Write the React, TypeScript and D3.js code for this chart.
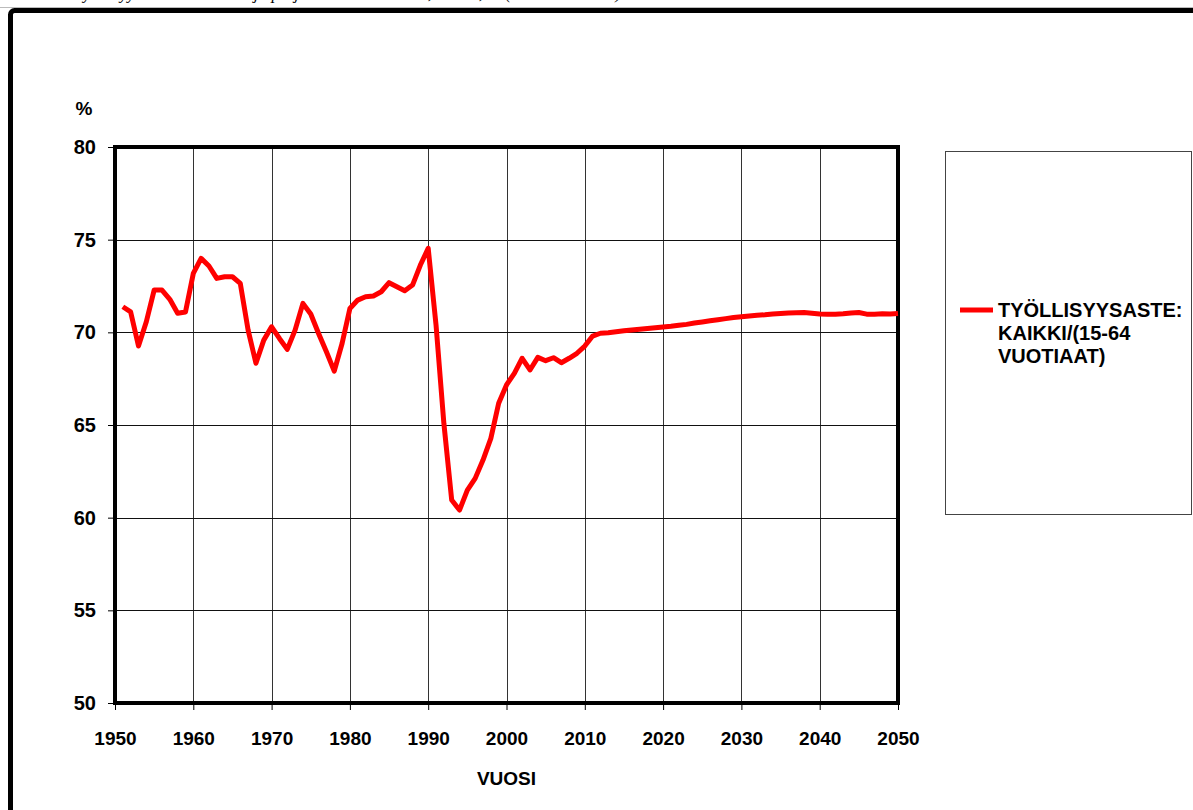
import * as d3 from "d3";
import { useRef, useEffect } from "react";

// years 1951..2050, one value per year
const years: number[] = d3.range(1951, 2051);
const rate: number[] = [
  // 1951-1960
  71.38, 71.1, 69.26, 70.57, 72.28, 72.28, 71.78, 71.03, 71.1, 73.18,
  // 1961-1970
  73.99, 73.58, 72.91, 73.0, 73.0, 72.64, 70.12, 68.33, 69.58, 70.3,
  // 1971-1980
  69.67, 69.08, 70.12, 71.56, 70.99, 69.94, 68.95, 67.91, 69.4, 71.29,
  // 1981-1990
  71.74, 71.92, 71.96, 72.19, 72.68, 72.46, 72.24, 72.55, 73.63, 74.53,
  // 1991-2000
  70.4, 65.09, 60.95, 60.41, 61.49, 62.12, 63.11, 64.28, 66.17, 67.16,
  // 2001-2010
  67.79, 68.6, 67.97, 68.65, 68.47, 68.63, 68.36, 68.6, 68.87, 69.26,
  // 2011-2020
  69.8, 69.95, 69.98, 70.03, 70.08, 70.13, 70.17, 70.21, 70.25, 70.29,
  // 2021-2030
  70.33, 70.38, 70.43, 70.5, 70.56, 70.62, 70.68, 70.74, 70.8, 70.84,
  // 2031-2040
  70.88, 70.92, 70.95, 70.99, 71.02, 71.04, 71.06, 71.07, 71.03, 70.99,
  // 2041-2050
  70.97, 70.98, 71.0, 71.04, 71.07, 70.98, 70.98, 71.0, 70.99, 71.02,
];
const xTicks: number[] = d3.range(1950, 2051, 10);
const yTicks: number[] = [50, 55, 60, 65, 70, 75, 80];
const legendLines: string[] = ["TYÖLLISYYSASTE:", "KAIKKI/(15-64", "VUOTIAAT)"];
const title =
  "Työllisyysaste 1950–2008 ja projektio vuoteen 2050, Suomi, % (15–64-vuotiaat)";

export default function App() {
  const svgRef = useRef<SVGSVGElement>(null);

  const width = 1193;
  const height = 810;
  const left = 115;
  const right = 898;
  const top = 147;
  const bottom = 703;

  useEffect(() => {
    const svg = d3.select(svgRef.current);
    svg.selectAll("*").remove();

    const x = d3.scaleLinear().domain([1950, 2050]).range([left, right]);
    const y = d3.scaleLinear().domain([50, 80]).range([bottom, top]);
    const font = "Arial, 'Liberation Sans', sans-serif";

    // thin grey line and the outer frame of the page
    svg.append("line")
      .attr("x1", 0).attr("x2", width).attr("y1", 7.5).attr("y2", 7.5)
      .attr("stroke", "#bbb").attr("stroke-width", 1);
    svg.append("rect")
      .attr("x", 10.5).attr("y", 10.5)
      .attr("width", width + 40).attr("height", height + 40)
      .attr("rx", 4)
      .attr("fill", "none").attr("stroke", "#000").attr("stroke-width", 5);

    // title, cut off at the top edge as in the source page
    svg.append("text")
      .attr("x", 75).attr("y", -1)
      .attr("font-family", "'Liberation Serif', 'Times New Roman', serif")
      .attr("font-style", "italic")
      .attr("font-size", 17)
      .text(title);

    // gridlines
    const grid = svg.append("g").attr("shape-rendering", "crispEdges");
    grid.selectAll("line.v")
      .data(xTicks.slice(1, -1))
      .join("line")
      .attr("x1", (d) => Math.round(x(d)) + 0.5)
      .attr("x2", (d) => Math.round(x(d)) + 0.5)
      .attr("y1", top).attr("y2", bottom)
      .attr("stroke", "#333").attr("stroke-width", 1);
    grid.selectAll("line.h")
      .data(yTicks.slice(1, -1))
      .join("line")
      .attr("x1", left).attr("x2", right)
      .attr("y1", (d) => Math.round(y(d)) + 0.5)
      .attr("y2", (d) => Math.round(y(d)) + 0.5)
      .attr("stroke", "#111").attr("stroke-width", 1);

    // axes
    svg.append("g")
      .attr("transform", `translate(0,${bottom})`)
      .call(d3.axisBottom(x).tickValues(xTicks).tickFormat(d3.format("d")).tickSize(7).tickPadding(22))
      .call((g) => g.select(".domain").remove())
      .call((g) => g.selectAll("line").attr("stroke", "#000"))
      .call((g) =>
        g.selectAll("text")
          .attr("font-family", font).attr("font-size", 19).attr("font-weight", "bold")
          .attr("fill", "#000")
      );
    svg.append("g")
      .attr("transform", `translate(${left},0)`)
      .call(d3.axisLeft(y).tickValues(yTicks).tickSize(7).tickPadding(12))
      .call((g) => g.select(".domain").remove())
      .call((g) => g.selectAll("line").attr("stroke", "#000"))
      .call((g) =>
        g.selectAll("text")
          .attr("font-family", font).attr("font-size", 20).attr("font-weight", "bold")
          .attr("fill", "#000")
      );

    // plot frame
    svg.append("rect")
      .attr("x", left).attr("y", top)
      .attr("width", right - left).attr("height", bottom - top)
      .attr("fill", "none").attr("stroke", "#000").attr("stroke-width", 4);

    // the series
    const line = d3.line<number>()
      .x((_, i) => x(years[i]))
      .y((d) => y(d));
    svg.append("path")
      .datum(rate)
      .attr("d", line)
      .attr("fill", "none")
      .attr("stroke", "#ff0000")
      .attr("stroke-width", 5)
      .attr("stroke-linejoin", "round");

    // axis titles
    svg.append("text")
      .attr("x", 84).attr("y", 115)
      .attr("text-anchor", "middle")
      .attr("font-family", font).attr("font-size", 19).attr("font-weight", "bold")
      .text("%");
    svg.append("text")
      .attr("x", (left + right) / 2).attr("y", 785)
      .attr("text-anchor", "middle")
      .attr("font-family", font).attr("font-size", 19).attr("font-weight", "bold")
      .text("VUOSI");

    // legend
    const legend = svg.append("g");
    legend.append("rect")
      .attr("x", 945.5).attr("y", 151.5)
      .attr("width", 246).attr("height", 363)
      .attr("fill", "#fff").attr("stroke", "#444").attr("stroke-width", 1);
    legend.append("line")
      .attr("x1", 960).attr("x2", 993).attr("y1", 310).attr("y2", 310)
      .attr("stroke", "#ff0000").attr("stroke-width", 5);
    legend.selectAll("text.l")
      .data(legendLines)
      .join("text")
      .attr("x", 998)
      .attr("y", (_, i) => 317 + i * 23)
      .attr("font-family", font).attr("font-size", 20).attr("font-weight", "bold")
      .text((d) => d);
  }, []);

  return (
    <svg
      ref={svgRef}
      width={width}
      height={height}
      style={{ position: "absolute", left: 0, top: 0, display: "block" }}
    />
  );
}
